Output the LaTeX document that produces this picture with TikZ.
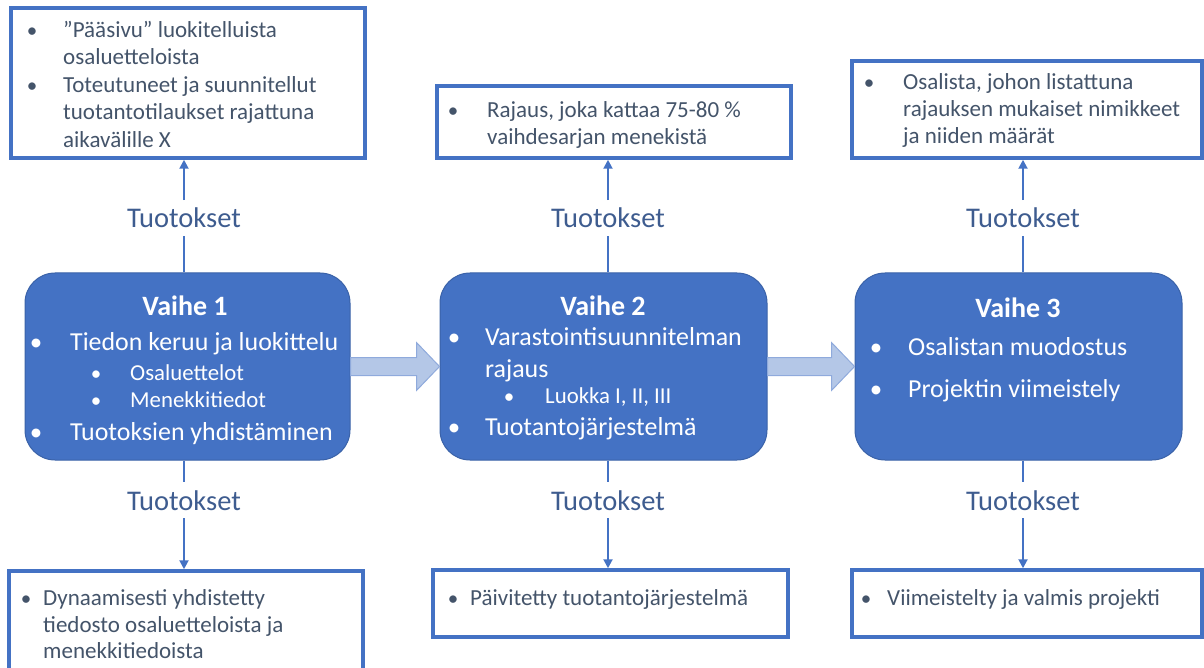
\documentclass[tikz,border=0pt]{standalone}
\usepackage{fontspec}
\setmainfont{Carlito}
\usetikzlibrary{arrows.meta,calc}
\definecolor{accent}{HTML}{4472C4}
\definecolor{phaseborder}{HTML}{3A62A8}
\definecolor{slate}{HTML}{44546A}
\definecolor{labcol}{HTML}{3E5C8F}
\definecolor{arrowfill}{HTML}{B4C7E7}
\definecolor{arrowborder}{HTML}{8FAADC}
\newcommand\fsz[2]{\fontsize{#1}{#2}\selectfont}
\begin{document}
\begin{tikzpicture}[x=1pt,y=-1pt,
 outbox/.style={draw=accent, line width=3.5pt, inner sep=0, rectangle, fill=white},
 phase/.style={fill=accent, draw=phaseborder, line width=1pt, rounded corners=30pt, inner sep=0, rectangle},
 otxt/.style={text=slate, font=\fsz{23}{27}, anchor=base west, inner sep=0},
 obul/.style={text=slate, font=\fsz{21}{27}, anchor=base, inner sep=0},
 ptitle/.style={text=white, font=\bfseries\fsz{28}{33}, anchor=base, inner sep=0},
 ptxt/.style={text=white, font=\fsz{25.9}{31}, anchor=base west, inner sep=0},
 pbul/.style={text=white, font=\fsz{25}{31}, anchor=base, inner sep=0},
 psub/.style={text=white, font=\fsz{22.8}{27}, anchor=base west, inner sep=0},
 psbul/.style={text=white, font=\fsz{21}{27}, anchor=base, inner sep=0},
 lab/.style={text=labcol, font=\fsz{28.5}{33}, inner sep=8pt, anchor=base},
 conn/.style={draw=accent, line width=2pt},
 arr/.style={conn, -{Triangle[width=9pt,length=9pt]}},
 bigarrow/.style={fill=arrowfill, draw=arrowborder, line width=1pt}
]
\useasboundingbox (0,0) rectangle (1204,668);
\clip (0,0) rectangle (1204,668);

% outer boxes
\node[outbox, minimum width=354pt, minimum height=150pt] (top1) at (188,83) {};
\node[outbox, minimum width=354pt, minimum height=72pt] (top2) at (614,122) {};
\node[outbox, minimum width=350pt, minimum height=97pt] (top3) at (1027,109.5) {};
\node[outbox, minimum width=354pt, minimum height=129pt] (bot1) at (186,635.5) {};
\node[outbox, minimum width=355pt, minimum height=67pt] (bot2) at (610.5,603.5) {};
\node[outbox, minimum width=350pt, minimum height=67pt] (bot3) at (1027,603.5) {};

% phase boxes
\node[phase, minimum width=325pt, minimum height=187pt] (p1) at (187.5,366.5) {};
\node[phase, minimum width=327pt, minimum height=187pt] (p2) at (603.5,366.5) {};
\node[phase, minimum width=327pt, minimum height=187pt] (p3) at (1018.5,366.5) {};

% big arrows
\draw[bigarrow] ([yshift=-9pt]p1.east) -- ([xshift=-23pt,yshift=-9pt]p2.west) -- ([xshift=-23pt,yshift=-24pt]p2.west) -- (p2.west) -- ([xshift=-23pt,yshift=24pt]p2.west) -- ([xshift=-23pt,yshift=9pt]p2.west) -- ([yshift=9pt]p1.east) -- cycle;
\draw[bigarrow] ([yshift=-9pt]p2.east) -- ([xshift=-23pt,yshift=-9pt]p3.west) -- ([xshift=-23pt,yshift=-24pt]p3.west) -- (p3.west) -- ([xshift=-23pt,yshift=24pt]p3.west) -- ([xshift=-23pt,yshift=9pt]p3.west) -- ([yshift=9pt]p2.east) -- cycle;

% top box texts
\node[obul] (t1b1) at (32,38) {•};
\node[otxt] (t1l1) at (63,38) {”Pääsivu” luokitelluista};
\node[otxt] (t1l2) at (63,65) {osaluetteloista};
\node[obul] (t1b2) at (32,93) {•};
\node[otxt] (t1l3) at (63,93) {Toteutuneet ja suunnitellut};
\node[otxt] (t1l4) at (63,120) {tuotantotilaukset rajattuna};
\node[otxt] (t1l5) at (63,148) {aikavälille X};

\node[obul] (t2b1) at (453,118) {•};
\node[otxt] (t2l1) at (487,118) {Rajaus, joka kattaa 75-80 \%};
\node[otxt] (t2l2) at (487,145) {vaihdesarjan menekistä};

\node[obul] (t3b1) at (869,90) {•};
\node[otxt] (t3l1) at (903,90) {Osalista, johon listattuna};
\node[otxt] (t3l2) at (903,117) {rajauksen mukaiset nimikkeet};
\node[otxt] (t3l3) at (903,144) {ja niiden määrät};

% bottom box texts
\node[obul] (b1b1) at (26,605) {•};
\node[otxt] (b1l1) at (43,605) {Dynaamisesti yhdistetty};
\node[otxt] (b1l2) at (43,632) {tiedosto osaluetteloista ja};
\node[otxt] (b1l3) at (43,658) {menekkitiedoista};

\node[obul] (b2b1) at (453,605) {•};
\node[otxt] (b2l1) at (470,605) {Päivitetty tuotantojärjestelmä};

\node[obul] (b3b1) at (866,605) {•};
\node[otxt] (b3l1) at (887,605) {Viimeistelty ja valmis projekti};

% phase 1 texts
\node[ptitle] (p1t) at (185,315) {Vaihe 1};
\node[pbul] (p1b1) at (36,350) {•};
\node[ptxt] (p1l1) at (70,350) {Tiedon keruu ja luokittelu};
\node[psbul] (p1s1) at (96,380) {•};
\node[psub] (p1l2) at (130,380) {Osaluettelot};
\node[psbul] (p1s2) at (96,407) {•};
\node[psub] (p1l3) at (130,407) {Menekkitiedot};
\node[pbul] (p1b2) at (36,440) {•};
\node[ptxt] (p1l4) at (70,440) {Tuotoksien yhdistäminen};

% phase 2 texts
\node[ptitle] (p2t) at (603,315) {Vaihe 2};
\node[pbul] (p2b1) at (454,345) {•};
\node[ptxt] (p2l1) at (485,345) {Varastointisuunnitelman};
\node[ptxt] (p2l2) at (485,377) {rajaus};
\node[psbul] (p2s1) at (509,403) {•};
\node[psub] (p2l3) at (545,403) {Luokka I, II, III};
\node[pbul] (p2b2) at (454,435) {•};
\node[ptxt] (p2l4) at (485,435) {Tuotantojärjestelmä};

% phase 3 texts
\node[ptitle] (p3t) at (1018,317) {Vaihe 3};
\node[pbul] (p3b1) at (876,355) {•};
\node[ptxt] (p3l1) at (908,355) {Osalistan muodostus};
\node[pbul] (p3b2) at (876,397) {•};
\node[ptxt] (p3l2) at (908,397) {Projektin viimeistely};

% Tuotokset labels and connectors
\node[lab] (u1) at (184,228) {Tuotokset};
\node[lab] (u2) at (608,228) {Tuotokset};
\node[lab] (u3) at (1023,228) {Tuotokset};
\node[lab] (d1) at (184,510) {Tuotokset};
\node[lab] (d2) at (608,510) {Tuotokset};
\node[lab] (d3) at (1023,510) {Tuotokset};

\draw[conn] (p1.north -| u1) -- (u1.south);
\draw[arr] (u1.north) -- (top1.south -| u1);
\draw[conn] (p2.north -| u2) -- (u2.south);
\draw[arr] (u2.north) -- (top2.south -| u2);
\draw[conn] (p3.north -| u3) -- (u3.south);
\draw[arr] (u3.north) -- (top3.south -| u3);

\draw[conn] (p1.south -| d1) -- (d1.north);
\draw[arr] (d1.south) -- (bot1.north -| d1);
\draw[conn] (p2.south -| d2) -- (d2.north);
\draw[arr] (d2.south) -- (bot2.north -| d2);
\draw[conn] (p3.south -| d3) -- (d3.north);
\draw[arr] (d3.south) -- (bot3.north -| d3);
\end{tikzpicture}
\end{document}
